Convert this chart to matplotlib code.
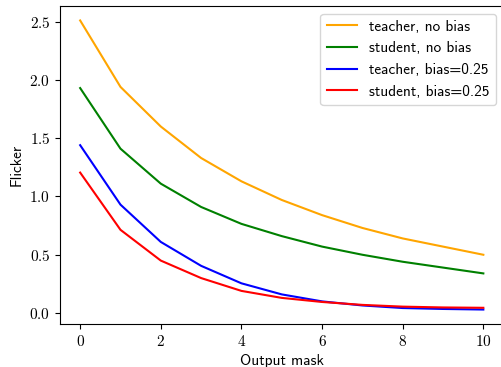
import matplotlib
matplotlib.use("Agg")
import matplotlib.pyplot as plt

x = list(range(11))
teacher_nobias = [2.51, 1.94, 1.60, 1.33, 1.13, 0.97, 0.84, 0.73, 0.64, 0.57, 0.50]
student_nobias = [1.93, 1.41, 1.11, 0.91, 0.765, 0.66, 0.57, 0.50, 0.44, 0.39, 0.34]
teacher_bias = [1.44, 0.93, 0.61, 0.405, 0.255, 0.16, 0.10, 0.065, 0.043, 0.035, 0.03]
student_bias = [1.205, 0.714, 0.45, 0.30, 0.19, 0.13, 0.095, 0.07, 0.055, 0.048, 0.045]
labels = ["teacher, no bias", "student, no bias", "teacher, bias=0.25", "student, bias=0.25"]
colors = ["orange", "green", "blue", "red"]

plt.rcParams['axes.formatter.use_mathtext'] = True

W, H = 501, 367
fig = plt.figure(figsize=(W / 100, H / 100), dpi=100)
ax = fig.add_axes([60 / W, (H - 324) / H, (503.5 - 60) / W, (324 - 6) / H])

for y, lab, c in zip([teacher_nobias, student_nobias, teacher_bias, student_bias], labels, colors):
    ax.plot(x, y, color=c, label=lab, linewidth=1.5)

ax.set_xticks([0, 2, 4, 6, 8, 10])
ax.set_yticks([0.0, 0.5, 1.0, 1.5, 2.0, 2.5])
for t in ax.get_xticklabels() + ax.get_yticklabels():
    t.set_fontfamily('cmr10')
    t.set_fontsize(11)
ax.set_xlabel("Output mask", fontfamily='cmss10', fontsize=11)
ax.set_ylabel("Flicker", fontfamily='cmss10', fontsize=11)
ax.legend(loc="upper right", prop={'family': 'cmss10', 'size': 11})

fig.savefig("out.png", dpi=100)
